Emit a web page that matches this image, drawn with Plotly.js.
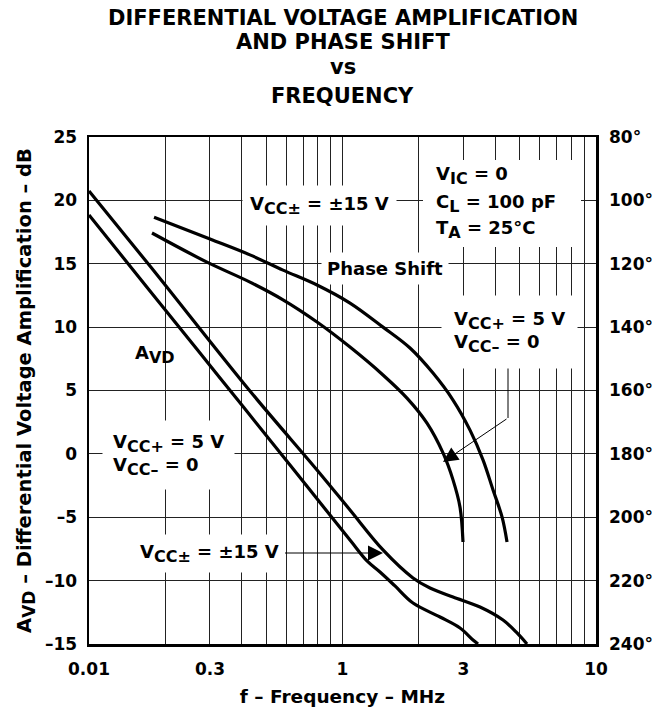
<!DOCTYPE html>
<html>
<head>
<meta charset="utf-8">
<script src="https://cdn.plot.ly/plotly-3.0.1.min.js"></script>
<style>html,body{margin:0;padding:0;background:#fff;}#chart{width:653px;height:710px;}</style>
</head>
<body>
<div id="chart"></div>
<script>
// ---- data ----
const freqGain15 = [0.100, 0.174, 0.4315, 0.7933, 1.0705, 1.4447, 1.897, 2.214, 2.729, 3.487, 4.298, 4.881, 5.343];
const gain15     = [20.74, 14.82, 4.96, -1.27, -4.43, -7.58, -9.79, -10.58, -11.29, -12.08, -13.11, -14.13, -15.0];
const freqGain5  = [0.100, 0.174, 0.3287, 0.6207, 1.0705, 1.2493, 1.4056, 1.611, 1.897, 2.425, 2.908, 3.272, 3.424];
const gain5      = [18.85, 12.85, 5.99, -0.88, -6.80, -8.45, -9.32, -10.42, -11.77, -12.87, -13.74, -14.68, -15.0];
const freqPhase15 = [0.1805, 0.3001, 0.4315, 0.5826, 0.7933, 1.0705, 1.4447, 1.8461, 2.2751, 2.7285, 3.1842, 3.5826, 3.9254, 4.259, 4.4566];
const phase15     = [105.3, 112.2, 117.2, 122.0, 126.7, 132.4, 140.0, 146.6, 154.5, 163.0, 172.5, 181.9, 191.4, 199.9, 207.8];
const freqPhase5  = [0.1772, 0.2920, 0.4315, 0.5826, 0.7933, 1.0705, 1.4447, 1.7963, 2.1544, 2.4916, 2.7285, 2.9075, 2.9878];
const phase5      = [110.3, 119.5, 125.8, 131.4, 138.4, 146.3, 155.1, 162.4, 170.3, 179.7, 188.2, 196.8, 207.8];

const xGridVals = [0.1,0.2,0.3,0.4,0.5,0.6,0.7,0.8,0.9,1,2,3,4,5,6,7,8,9,10];
const xTickText = ['0.01','','0.3','','','','','','','1','','3','','','','','','','10'];
const yTickVals = [-15,-10,-5,0,5,10,15,20,25];
const yTickText = ['–15','–10','–5','0','5','10','15','20','25'];
const phaseTickVals = [80,100,120,140,160,180,200,220,240];
const phaseTickText = ['80°','100°','120°','140°','160°','180°','200°','220°','240°'];

// ---- layout helpers (pixel -> paper) ----
const L = 89, T = 137, W = 507, H = 507;
const px = p => (p - L) / W;
const py = p => (T + H - p) / H;
const FONT = 'DejaVu Sans, Liberation Sans, Arial, sans-serif';
const BLACK = '#000';
const GRID = '#222';
const sub = (s, size) => '<sub><span style="font-size:' + (size || 16) + 'px">' + s + '</span></sub>';

const lineStyle = {color: BLACK, width: 3.2, shape: 'spline', smoothing: 1};
const traces = [
  {x: freqGain15, y: gain15, mode: 'lines', line: lineStyle, yaxis: 'y', hoverinfo: 'skip'},
  {x: freqGain5, y: gain5, mode: 'lines', line: lineStyle, yaxis: 'y', hoverinfo: 'skip'},
  {x: freqPhase15, y: phase15, mode: 'lines', line: lineStyle, yaxis: 'y2', hoverinfo: 'skip'},
  {x: freqPhase5, y: phase5, mode: 'lines', line: lineStyle, yaxis: 'y2', hoverinfo: 'skip'}
];

const lab = {family: FONT, size: 18, color: BLACK, weight: 'bold'};
const ttl = {family: FONT, size: 21, color: BLACK, weight: 'bold'};
function txt(text, x, y, extra) {
  return Object.assign({xref: 'paper', yref: 'paper', x: px(x), y: py(y), text: text,
    xanchor: 'center', yanchor: 'middle',
    showarrow: false, font: lab, bgcolor: '#fff', borderpad: 4}, extra || {});
}
const noBg = 'rgba(0,0,0,0)';
const annotations = [
  txt('DIFFERENTIAL VOLTAGE AMPLIFICATION', 342.5, 18, {font: ttl, bgcolor: noBg, borderpad: 0}),
  txt('AND PHASE SHIFT', 342.5, 42, {font: ttl, bgcolor: noBg, borderpad: 0}),
  txt('vs', 342.5, 67, {font: ttl, bgcolor: noBg, borderpad: 0}),
  txt('FREQUENCY', 342.5, 96, {font: ttl, bgcolor: noBg, borderpad: 0}),
  txt('V' + sub('CC±') + ' = ±15 V', 319, 205, {borderpad: 7}),
  txt('V' + sub('IC') + ' = 0', 435, 176, {xanchor: 'left', align: 'left', bgcolor: noBg, borderpad: 0}),
  txt('C' + sub('L') + ' = 100 pF', 435, 203, {xanchor: 'left', align: 'left', bgcolor: noBg, borderpad: 0}),
  txt('T' + sub('A') + ' = 25°C', 435, 229, {xanchor: 'left', align: 'left', bgcolor: noBg, borderpad: 0}),
  txt('Phase Shift', 385, 268, {borderpad: 5}),
  txt('V' + sub('CC+') + ' = 5 V<br>V' + sub('CC–') + ' = 0', 441, 332, {xanchor: 'left', align: 'left', borderpad: 12}),
  txt('A' + sub('VD'), 155, 354, {bgcolor: noBg}),
  txt('V' + sub('CC+') + ' = 5 V<br>V' + sub('CC–') + ' = 0', 102, 455, {xanchor: 'left', align: 'left', borderpad: 10}),
  // arrowed label pointing to the ±15 V gain curve
  {xref: 'paper', yref: 'paper', x: px(383), y: py(553), ax: 209 - 383, ay: 0,
   text: 'V' + sub('CC±') + ' = ±15 V', showarrow: true, arrowhead: 2, arrowsize: 3, arrowwidth: 1,
   arrowcolor: BLACK, standoff: 0, font: lab, bgcolor: '#fff', borderpad: 6},
  // diagonal pointer to the 5 V phase curve
  {xref: 'paper', yref: 'paper', x: px(443), y: py(462), ax: 508 - 443, ay: 418 - 462,
   text: '', showarrow: true, arrowhead: 2, arrowsize: 3, arrowwidth: 1,
   arrowcolor: BLACK, standoff: 0}
];
const shapes = [
  // white panel behind the test-condition block
  {type: 'rect', xref: 'paper', yref: 'paper', x0: px(423), x1: px(581), y0: py(247), y1: py(160),
   fillcolor: '#fff', line: {width: 0}, layer: 'above'},
  // vertical part of the 5 V phase pointer
  {type: 'line', xref: 'paper', yref: 'paper', x0: px(508), x1: px(508), y0: py(364), y1: py(418),
   line: {color: BLACK, width: 1}}
];

const tick = {family: FONT, size: 17, color: BLACK, weight: 'bold'};
const layout = {
  width: 653, height: 710,
  margin: {l: L, r: 653 - L - W, t: T, b: 710 - T - H},
  paper_bgcolor: '#fff', plot_bgcolor: '#fff',
  showlegend: false,
  font: {family: FONT, size: 17, color: BLACK, weight: 'bold'},
  xaxis: {type: 'log', range: [-1, 1], tickmode: 'array', tickvals: xGridVals, ticktext: xTickText,
    showgrid: true, gridcolor: GRID, gridwidth: 1, showline: true, linecolor: BLACK, linewidth: 2.5,
    mirror: true, ticks: '', zeroline: false, ticklabelstandoff: 8, tickfont: tick,
    title: {text: 'f – Frequency – MHz', font: {family: FONT, size: 18.5, color: BLACK, weight: 'bold'}, standoff: 12}},
  yaxis: {range: [-15, 25], tickmode: 'array', tickvals: yTickVals, ticktext: yTickText,
    showgrid: true, gridcolor: GRID, gridwidth: 1, showline: true, linecolor: BLACK, linewidth: 2.5,
    mirror: true, ticks: '', zeroline: false, ticklabelstandoff: 6, tickfont: tick,
    title: {text: 'A' + sub('VD', 17) + ' – Differential Voltage Amplification – dB', font: {family: FONT, size: 19.5, color: BLACK, weight: 'bold'}, standoff: 8}},
  yaxis2: {overlaying: 'y', side: 'right', range: [240, 80], tickmode: 'array', tickvals: phaseTickVals,
    ticktext: phaseTickText, showgrid: false, zeroline: false, showline: false, ticks: '', ticklabelstandoff: 12,
    tickfont: tick},
  annotations: annotations,
  shapes: shapes
};

Plotly.newPlot('chart', traces, layout, {staticPlot: true, displayModeBar: false});
</script>
</body>
</html>
